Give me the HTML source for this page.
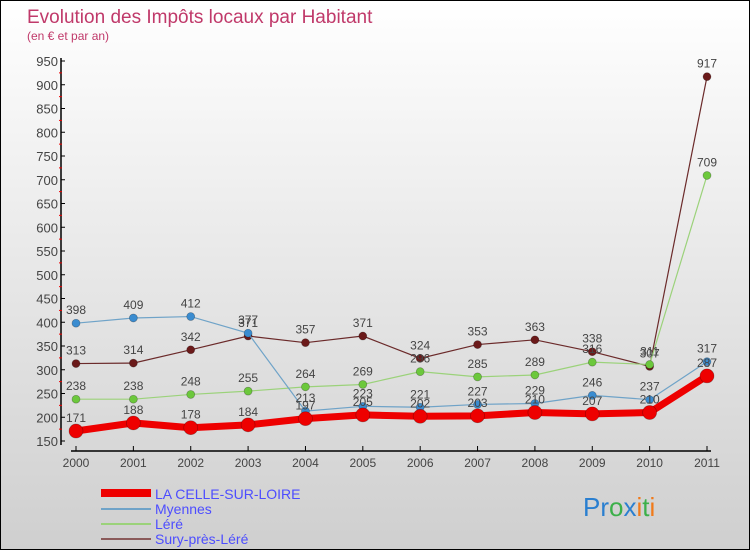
<!DOCTYPE html>
<html><head><meta charset="utf-8"><style>
body{margin:0}
#c{width:750px;height:550px;position:relative;box-sizing:border-box;border:1px solid #000;background:linear-gradient(#fff,#cfcfcf);font-family:"Liberation Sans",sans-serif;overflow:hidden}
</style></head><body>
<div id="c">
<svg id="s" width="748" height="548" style="position:absolute;left:0;top:0">
<text x="26" y="22" font-size="19" fill="#c0396a">Evolution des Impôts locaux par Habitant</text>
<text x="26" y="39" font-size="12" fill="#c0396a">(en € et par an)</text>
<g id="axes"></g><g id="series"></g>
<g font-size="14" fill="#4d4dff">
<rect x="100" y="488" width="50" height="8" fill="#e00"/>
<text x="154" y="498">LA CELLE-SUR-LOIRE</text>
<rect x="100" y="507" width="50" height="2" fill="#6fa3c8"/>
<text x="154" y="513">Myennes</text>
<rect x="100" y="522" width="50" height="2" fill="#9bd27a"/>
<text x="154" y="528">Léré</text>
<rect x="100" y="537" width="50" height="2" fill="#8a5a5a"/>
<text x="154" y="543">Sury-près-Léré</text>
</g>
<text x="582" y="515" font-size="26"><tspan fill="#2a7fd0">Pr</tspan><tspan fill="#3cb04a">o</tspan><tspan fill="#2a7fd0">x</tspan><tspan fill="#f07a1a">i</tspan><tspan fill="#3cb04a">t</tspan><tspan fill="#f07a1a">i</tspan></text>
</svg>
</div>
<script>
const years=[2000,2001,2002,2003,2004,2005,2006,2007,2008,2009,2010,2011];
const celle=[171,188,178,184,197,205,202,203,210,207,210,287];
const myennes=[398,409,412,377,213,223,221,227,229,246,237,317];
const lere=[238,238,248,255,264,269,296,285,289,316,311,709];
const sury=[313,314,342,371,357,371,324,353,363,338,307,917];
const yTicks=[150,200,250,300,350,400,450,500,550,600,650,700,750,800,850,900,950];
const NS="http://www.w3.org/2000/svg";
const X=i=>75+i*(706-75)/(years.length-1);
const Y=v=>440-(v-150)*0.475;
function mk(t,a,p){const e=document.createElementNS(NS,t);for(const k in a)e.setAttribute(k,a[k]);p.appendChild(e);return e;}
const ax=document.getElementById('axes');
let l=mk('line',{x1:60,y1:Y(950)-3,x2:60,y2:444,stroke:'#000','stroke-width':1.5},ax);


l=mk('line',{x1:70,y1:450,x2:710,y2:450,stroke:'#000','stroke-width':1.5},ax);


yTicks.forEach((v,i)=>{
 mk('line',{x1:60,y1:Y(v),x2:64,y2:Y(v),stroke:'#000'},ax);
 if(i<yTicks.length-1)mk('line',{x1:58,y1:Y(v+25),x2:61,y2:Y(v+25),stroke:'#e00'},ax);
 const t=mk('text',{x:57,y:Y(v)+5,'text-anchor':'end','font-size':13,fill:'#444'},ax);t.textContent=v;
 
 
});
years.forEach((y,i)=>{
 mk('line',{x1:X(i),y1:445,x2:X(i),y2:450,stroke:'#000'},ax);
 const t=mk('text',{x:X(i),y:466,'text-anchor':'middle','font-size':12,fill:'#444'},ax);t.textContent=y;
 
 
});
const sg=document.getElementById('series');
function draw(data,color,dot,w,r,name){
 const g=mk('g',{},sg);
 
 
 mk('polyline',{points:data.map((v,i)=>X(i)+','+Y(v)).join(' '),fill:'none',stroke:color,'stroke-width':w},g);
 data.forEach((v,i)=>{
  const c=mk('circle',{cx:X(i),cy:Y(v),r:r,fill:dot,stroke:'rgba(0,0,0,0.3)','stroke-width':0.7},g);
  
  
  const t=mk('text',{x:X(i),y:Y(v)-9,'text-anchor':'middle','font-size':12,fill:'#444'},g);t.textContent=v;
  
  
 });
}
draw(sury,'#6b2a2a','#6b1a1a',1.2,4,'sury');
draw(lere,'#9bd27a','#6cc83c',1.2,4,'lere');
draw(myennes,'#6fa3c8','#3a8cd0',1.2,4,'myennes');
draw(celle,'#ee0000','#ee0000',7,7,'celle');
</script>
</body></html>
